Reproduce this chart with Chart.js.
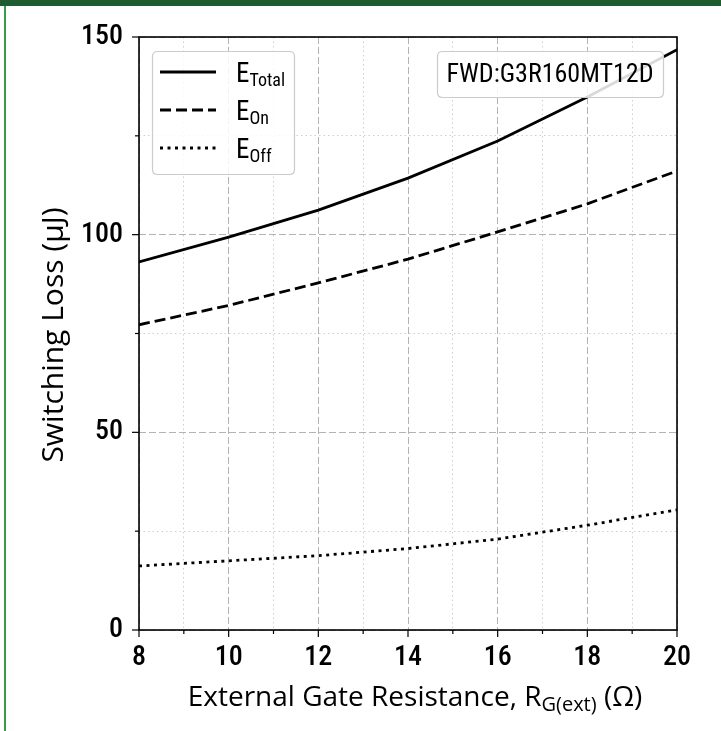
<!DOCTYPE html>
<html><head><meta charset="utf-8">
<script src="https://cdn.jsdelivr.net/npm/chart.js@4"></script>
<style>
html,body{margin:0;padding:0;background:#fff;}
#wrap{position:relative;width:721px;height:731px;overflow:hidden;}
#topbar{position:absolute;left:0;top:0;width:721px;height:6px;background:#1f5c30;}
#leftline{position:absolute;left:4px;top:6px;width:2px;height:725px;background:#3a9a50;}
canvas{position:absolute;left:0;top:0;}
</style></head><body>
<div id="wrap"><canvas id="c" width="721" height="731"></canvas><div id="topbar"></div><div id="leftline"></div></div>
<script>
const gateResistance = [8, 10, 12, 14, 16, 18, 20];
const eTotal = [93.1, 99.4, 106.2, 114.3, 123.7, 134.8, 146.8];
const eOn = [77.2, 82.1, 87.8, 93.8, 100.7, 107.8, 116.1];
const eOff = [16.2, 17.5, 18.8, 20.6, 23.0, 26.5, 30.4];
const seriesNames = [['E', 'Total'], ['E', 'On'], ['E', 'Off']];
const xTickLabels = [8, 10, 12, 14, 16, 18, 20];
const yTickLabels = [0, 50, 100, 150];
const annotationText = 'FWD:G3R160MT12D';
const xTitleParts = ['External Gate Resistance, R', 'G(ext)', ' (Ω)'];
const yTitle = 'Switching Loss (μJ)';

const NARROW = "'Liberation Sans Narrow', 'Roboto Condensed', 'Arial Narrow', sans-serif";
const TITLEF = "'Open Sans', Roboto, sans-serif";

function pts(ys) { return gateResistance.map((x, i) => ({x: x, y: ys[i]})); }

function roundRect(ctx, x, y, w, h, r) {
  ctx.beginPath();
  ctx.moveTo(x + r, y);
  ctx.lineTo(x + w - r, y); ctx.quadraticCurveTo(x + w, y, x + w, y + r);
  ctx.lineTo(x + w, y + h - r); ctx.quadraticCurveTo(x + w, y + h, x + w - r, y + h);
  ctx.lineTo(x + r, y + h); ctx.quadraticCurveTo(x, y + h, x, y + h - r);
  ctx.lineTo(x, y + r); ctx.quadraticCurveTo(x, y, x + r, y);
  ctx.closePath();
}

const decorations = {
  id: 'decorations',
  afterDatasetsDraw(chart) {
    const ctx = chart.ctx, a = chart.chartArea;
    const xs = chart.scales.x, ys = chart.scales.y;
    ctx.save();
    ctx.strokeStyle = '#000'; ctx.lineWidth = 1.6; ctx.setLineDash([]);
    ctx.strokeRect(a.left, a.top, a.right - a.left, a.bottom - a.top);
    ctx.lineWidth = 1.2;
    xs.ticks.forEach(t => {
      const px = xs.getPixelForValue(t.value);
      const major = xTickLabels.includes(t.value);
      ctx.beginPath(); ctx.moveTo(px, a.bottom); ctx.lineTo(px, a.bottom + (major ? 7 : 4)); ctx.stroke();
    });
    ys.ticks.forEach(t => {
      const py = ys.getPixelForValue(t.value);
      const major = yTickLabels.includes(t.value);
      ctx.beginPath(); ctx.moveTo(a.left, py); ctx.lineTo(a.left - (major ? 7 : 4), py); ctx.stroke();
    });
    ctx.restore();
  },
  afterDraw(chart) {
    const ctx = chart.ctx, a = chart.chartArea;
    ctx.save();
    ctx.fillStyle = '#000';
    ctx.font = "30px " + TITLEF;
    ctx.textAlign = 'center'; ctx.textBaseline = 'middle';
    ctx.translate(54, 335);
    ctx.rotate(-Math.PI / 2);
    ctx.fillText(yTitle, 0, 0);
    ctx.restore();

    ctx.save();
    ctx.fillStyle = '#000'; ctx.textBaseline = 'alphabetic'; ctx.textAlign = 'left';
    const big = "28px " + TITLEF, small = "20px " + TITLEF;
    ctx.font = big; const w1 = ctx.measureText(xTitleParts[0]).width;
    const w3 = ctx.measureText(xTitleParts[2]).width;
    ctx.font = small; const w2 = ctx.measureText(xTitleParts[1]).width;
    let x0 = 415 - (w1 + w2 + w3) / 2;
    const base = 706;
    ctx.font = big; ctx.fillText(xTitleParts[0], x0, base);
    ctx.font = small; ctx.fillText(xTitleParts[1], x0 + w1, base + 5);
    ctx.font = big; ctx.fillText(xTitleParts[2], x0 + w1 + w2, base);
    ctx.restore();

    ctx.save();
    roundRect(ctx, 152.5, 51.5, 142, 123, 5);
    ctx.fillStyle = 'rgba(255,255,255,0.85)'; ctx.fill();
    ctx.strokeStyle = '#cccccc'; ctx.lineWidth = 1.2; ctx.stroke();
    const rows = [72, 110, 148];
    chart.data.datasets.forEach((ds, i) => {
      const y = rows[i];
      ctx.strokeStyle = ds.borderColor; ctx.lineWidth = ds.borderWidth;
      ctx.setLineDash(ds.borderDash || []);
      ctx.beginPath(); ctx.moveTo(160, y); ctx.lineTo(216, y); ctx.stroke();
      ctx.setLineDash([]);
      ctx.fillStyle = '#000'; ctx.textAlign = 'left'; ctx.textBaseline = 'alphabetic';
      ctx.font = "27px " + NARROW;
      ctx.fillText(seriesNames[i][0], 236, y + 10);
      const we = ctx.measureText(seriesNames[i][0]).width;
      ctx.font = "18px " + NARROW;
      ctx.fillText(seriesNames[i][1], 236 + we, y + 14);
    });
    ctx.restore();

    ctx.save();
    roundRect(ctx, 437.5, 51.5, 226, 46, 5);
    ctx.fillStyle = 'rgba(255,255,255,0.85)'; ctx.fill();
    ctx.strokeStyle = '#cccccc'; ctx.lineWidth = 1.2; ctx.stroke();
    ctx.fillStyle = '#000'; ctx.font = "26px " + NARROW;
    ctx.textAlign = 'center'; ctx.textBaseline = 'middle';
    ctx.fillText(annotationText, 550, 75);
    ctx.restore();
  }
};

const styleOf = [
  {borderDash: []},
  {borderDash: [11, 5]},
  {borderDash: [3, 4.5]}
];
const seriesValues = [eTotal, eOn, eOff];

new Chart(document.getElementById('c'), {
  type: 'line',
  data: {
    datasets: seriesValues.map((v, i) => ({
      label: seriesNames[i].join(''),
      data: pts(v),
      borderColor: '#000',
      borderWidth: 2.8,
      borderDash: styleOf[i].borderDash,
      pointRadius: 0,
      tension: 0,
      fill: false
    }))
  },
  options: {
    responsive: false,
    devicePixelRatio: 1,
    animation: false,
    layout: {padding: {top: 37, right: 44, left: 0, bottom: 0}},
    plugins: {legend: {display: false}, tooltip: {enabled: false}},
    scales: {
      x: {
        type: 'linear', min: 8, max: 20,
        afterFit: s => { s.height = 101; },
        ticks: {
          stepSize: 1, autoSkip: false, maxRotation: 0,
          padding: 11, color: '#000',
          font: {family: NARROW, size: 28, weight: '500'},
          callback: v => xTickLabels.includes(v) ? String(v) : ''
        },
        grid: {
          drawTicks: false, lineWidth: 1,
          color: c => (c.tick && xTickLabels.includes(c.tick.value)) ? '#b3b3b3' : '#cfcfcf'
        },
        border: {display: false, dash: c => (c.tick ? (xTickLabels.includes(c.tick.value) ? [7, 3] : [1.5, 3]) : [])}
      },
      y: {
        type: 'linear', min: 0, max: 150,
        afterFit: s => { s.width = 139; },
        ticks: {
          stepSize: 25, autoSkip: false,
          padding: 16, color: '#000',
          font: {family: NARROW, size: 28, weight: '500'},
          callback: v => yTickLabels.includes(v) ? String(v) : ''
        },
        grid: {
          drawTicks: false, lineWidth: 1,
          color: c => (c.tick && yTickLabels.includes(c.tick.value)) ? '#b3b3b3' : '#cfcfcf'
        },
        border: {display: false, dash: c => (c.tick ? (yTickLabels.includes(c.tick.value) ? [7, 3] : [1.5, 3]) : [])}
      }
    }
  },
  plugins: [decorations]
});
</script>
</body></html>
